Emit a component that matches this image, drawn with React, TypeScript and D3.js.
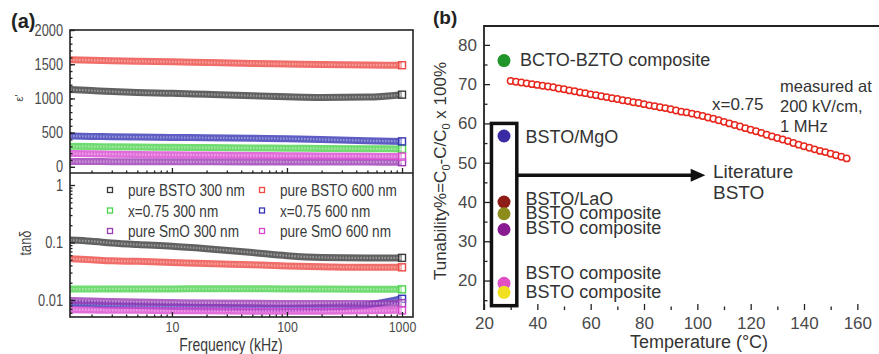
import { useEffect, useRef } from "react";
import * as d3 from "d3";

// panel (a): frequency sweep, read at these frequencies (kHz)
const freqs = [1.3, 2, 3, 5, 10, 20, 50, 100, 200, 500, 1000];
const seriesNames = [
  "pure BSTO 300 nm",
  "pure BSTO 600 nm",
  "x=0.75 300 nm",
  "x=0.75 600 nm",
  "pure SmO 300 nm",
  "pure SmO 600 nm",
];
const seriesColors = ["#3a3a3a", "#ec4a44", "#4cd24c", "#3434b4", "#9a3ab4", "#d848d0"];

const epsBSTO300 = [1130, 1115, 1100, 1085, 1075, 1060, 1040, 1025, 1015, 1020, 1055];
const epsBSTO600 = [1565, 1558, 1550, 1542, 1535, 1525, 1512, 1503, 1495, 1488, 1485];
const epsX300 = [300, 297, 293, 289, 285, 281, 276, 272, 268, 264, 262];
const epsX600 = [450, 445, 440, 435, 430, 425, 418, 412, 400, 382, 372];
const epsSmO300 = [78, 77, 76, 75, 74, 73, 72, 71, 70, 69, 68];
const epsSmO600 = [195, 190, 185, 180, 176, 172, 167, 163, 159, 154, 150];

const tanBSTO300 = [0.11, 0.105, 0.098, 0.092, 0.086, 0.078, 0.067, 0.059, 0.055, 0.054, 0.054];
const tanBSTO600 = [0.052, 0.05, 0.048, 0.047, 0.045, 0.043, 0.041, 0.039, 0.038, 0.037, 0.037];
const tanX300 = [0.0155, 0.0155, 0.0156, 0.0156, 0.0156, 0.0157, 0.0157, 0.0156, 0.0155, 0.0154, 0.0153];
const tanX600 = [0.0088, 0.0085, 0.0082, 0.008, 0.0077, 0.0075, 0.0073, 0.0072, 0.0074, 0.0082, 0.0105];
const tanSmO300 = [0.0098, 0.0096, 0.0094, 0.0092, 0.009, 0.0089, 0.0088, 0.0087, 0.0087, 0.0087, 0.0088];
const tanSmO600 = [0.0068, 0.0067, 0.0066, 0.0066, 0.0065, 0.0065, 0.0064, 0.0064, 0.0064, 0.0065, 0.0066];

const epsTicks = [0, 500, 1000, 1500, 2000];
const tanTicks = [0.01, 0.1, 1];
const freqTicks = [10, 100, 1000];

// panel (b): tunability vs temperature, x = 0.75
const temps = [
  30, 32, 34, 36, 38, 40, 42, 44, 46, 48, 50, 52, 54, 56, 58, 60, 62, 64, 66, 68, 70, 72,
  74, 76, 78, 80, 82, 84, 86, 88, 90, 92, 94, 96, 98, 100, 102, 104, 106, 108, 110, 112,
  114, 116, 118, 120, 122, 124, 126, 128, 130, 132, 134, 136, 138, 140, 142, 144, 146,
  148, 150, 152, 154, 156,
];
const tunability = [
  70.8, 70.6, 70.4, 70.2, 70.0, 69.8, 69.6, 69.4, 69.2, 68.9, 68.7, 68.4, 68.2, 67.9,
  67.7, 67.4, 67.2, 66.9, 66.7, 66.4, 66.2, 65.9, 65.7, 65.4, 65.2, 64.9, 64.6, 64.4,
  64.1, 63.9, 63.6, 63.3, 63.0, 62.8, 62.5, 62.2, 61.9, 61.5, 61.2, 60.8, 60.4, 60.0,
  59.6, 59.2, 58.8, 58.4, 58.0, 57.6, 57.1, 56.7, 56.3, 55.9, 55.5, 55.0, 54.6, 54.2,
  53.8, 53.4, 53.0, 52.7, 52.3, 51.9, 51.5, 51.1,
];

const litTemp = 27.5;
const litNames = [
  "BCTO-BZTO composite",
  "BSTO/MgO",
  "BSTO/LaO",
  "BSTO composite",
  "BSTO composite",
  "BSTO composite",
  "BSTO composite",
];
const litValues = [76, 56.8, 40, 37, 33, 19.3, 17];
const litLabelY = [76.2, 56.5, 40.8, 37.1, 33.3, 21.8, 17.0];
const litColors = ["#20962a", "#3a2aa4", "#8e1c18", "#8c8c1c", "#8a1a92", "#e050c4", "#f0e020"];

const tempTicks = [20, 40, 60, 80, 100, 120, 140, 160];
const tunTicks = [20, 30, 40, 50, 60, 70, 80];

const sans = "'Liberation Sans', Arial, sans-serif";
const SQ = 0.8; // horizontal squeeze for the condensed lettering of panel (a)

export default function App() {
  const ref = useRef<SVGSVGElement>(null);

  useEffect(() => {
    const svg = d3.select(ref.current);
    svg.selectAll("*").remove();

    // ---------- panel (a) ----------
    const aL = 70, aR = 413, aTop = 30, aSep = 173, aBot = 317;
    const x = d3.scaleLog().domain([1.3, 1246]).range([aL, aR]);
    const yEps = d3.scaleLinear().domain([-90, 2000]).range([aSep, aTop]);
    const yTan = d3.scaleLog().domain([0.00506, 1.617]).range([aBot, aSep]);

    const epsData = [epsBSTO300, epsBSTO600, epsX300, epsX600, epsSmO300, epsSmO600];
    const tanData = [tanBSTO300, tanBSTO600, tanX300, tanX600, tanSmO300, tanSmO600];

    const drawBands = (g: any, data: number[][], y: any) => {
      const line = d3
        .line<number>()
        .x((_, i) => x(freqs[i]))
        .y((d) => y(d))
        .curve(d3.curveMonotoneX);
      data.forEach((vals, k) => {
        g.append("path")
          .attr("d", line(vals))
          .attr("fill", "none")
          .attr("stroke", seriesColors[k])
          .attr("stroke-opacity", 0.8)
          .attr("stroke-width", 7);
        g.append("path")
          .attr("d", line(vals))
          .attr("fill", "none")
          .attr("stroke", "#fff")
          .attr("stroke-opacity", 0.35)
          .attr("stroke-width", 2.2)
          .attr("stroke-dasharray", "1.6 1.4");
        const last = vals[vals.length - 1];
        g.append("rect")
          .attr("x", x(freqs[freqs.length - 1]) - 3.5)
          .attr("y", y(last) - 3.5)
          .attr("width", 7)
          .attr("height", 7)
          .attr("fill", "#fff")
          .attr("fill-opacity", 0.4)
          .attr("stroke", seriesColors[k])
          .attr("stroke-width", 1.4);
      });
    };

    const a = svg.append("g");
    drawBands(a.append("g"), epsData, yEps);
    drawBands(a.append("g"), tanData, yTan);

    const styleAxis = (g: any, size = 16, squeeze = SQ) => {
      g.select(".domain").remove();
      g.selectAll("line").attr("stroke", "#222").attr("stroke-width", 1.3);
      g.selectAll("text")
        .attr("fill", "#4a4a4a")
        .style("font-family", sans)
        .style("font-size", `${size}px`)
        .attr("x", function (this: any) {
          return +d3.select(this).attr("x") / squeeze;
        })
        .attr("transform", `scale(${squeeze},1)`);
    };

    const narrowText = (g: any, t: string, xx: number, yy: number, size: number, anchor = "start") =>
      g.append("text")
        .attr("transform", `translate(${xx},${yy}) scale(${SQ},1)`)
        .attr("text-anchor", anchor)
        .attr("fill", "#3a3a3a")
        .style("font-family", sans)
        .style("font-size", `${size}px`)
        .text(t);

    // eps' axis
    a.append("g")
      .attr("transform", `translate(${aL},0)`)
      .call(d3.axisLeft(yEps).tickValues(d3.range(0, 2001, 100)).tickSize(-2.5).tickFormat(() => ""))
      .call(styleAxis);
    a.append("g")
      .attr("transform", `translate(${aL},0)`)
      .call(d3.axisLeft(yEps).tickValues(epsTicks).tickSize(-5).tickPadding(7).tickFormat(d3.format("d")))
      .call(styleAxis);

    // tan axis
    const tanMinor: number[] = [];
    [0.001, 0.01, 0.1, 1].forEach((dec) => d3.range(2, 10).forEach((m) => tanMinor.push(dec * m)));
    a.append("g")
      .attr("transform", `translate(${aL},0)`)
      .call(
        d3.axisLeft(yTan).tickValues(tanMinor.filter((v) => v > 0.0051 && v < 1.6)).tickSize(-2.5).tickFormat(() => "")
      )
      .call(styleAxis);
    a.append("g")
      .attr("transform", `translate(${aL},0)`)
      .call(d3.axisLeft(yTan).tickValues(tanTicks).tickSize(-5).tickPadding(7).tickFormat((d: any) => `${d}`))
      .call(styleAxis);

    // frequency ticks, inward on separator and bottom
    const fMinor: number[] = [];
    [1, 10, 100].forEach((dec) => d3.range(2, 10).forEach((m) => fMinor.push(dec * m)));
    [aSep, aBot].forEach((yy) => {
      a.append("g")
        .attr("transform", `translate(0,${yy})`)
        .call(d3.axisBottom(x).tickValues(fMinor).tickSize(-2.5).tickFormat(() => ""))
        .call(styleAxis);
      a.append("g")
        .attr("transform", `translate(0,${yy})`)
        .call(
          d3
            .axisBottom(x)
            .tickValues(freqTicks)
            .tickSize(-5)
            .tickPadding(4)
            .tickFormat((d: any) => (yy === aBot ? `${d}` : ""))
        )
        .call((g: any) => styleAxis(g, 15.5));
    });

    a.append("rect")
      .attr("x", aL)
      .attr("y", aTop)
      .attr("width", aR - aL)
      .attr("height", aBot - aTop)
      .attr("fill", "none")
      .attr("stroke", "#222")
      .attr("stroke-width", 1.6);
    a.append("line")
      .attr("x1", aL)
      .attr("x2", aR)
      .attr("y1", aSep)
      .attr("y2", aSep)
      .attr("stroke", "#222")
      .attr("stroke-width", 1.6);

    // legend
    const legX = [110, 262];
    const legY = [190, 210.5, 231];
    seriesNames.forEach((name, i) => {
      const cx = legX[i % 2];
      const cy = legY[Math.floor(i / 2)];
      a.append("rect")
        .attr("x", cx - 2.5)
        .attr("y", cy - 2.5)
        .attr("width", 5)
        .attr("height", 5)
        .attr("fill", "#fff")
        .attr("stroke", seriesColors[i])
        .attr("stroke-width", 1.3);
      narrowText(a, name, cx + 18, cy + 6, 17);
    });

    a.append("text")
      .attr("transform", "translate(23,98) rotate(-90)")
      .attr("text-anchor", "middle")
      .attr("fill", "#444")
      .style("font-family", sans)
      .style("font-size", "11px")
      .text("ε'");
    a.append("text")
      .attr("transform", `translate(31,243) rotate(-90) scale(${SQ},1)`)
      .attr("text-anchor", "middle")
      .attr("fill", "#444")
      .style("font-family", sans)
      .style("font-size", "16px")
      .text("tanδ");
    narrowText(a, "Frequency (kHz)", 231, 350.5, 17.5, "middle");
    a.append("text")
      .attr("x", 11)
      .attr("y", 28)
      .attr("fill", "#222")
      .style("font-family", sans)
      .style("font-weight", "bold")
      .style("font-size", "20px")
      .text("(a)");

    // ---------- panel (b) ----------
    const bL = 484, bR = 884, bTop = 26, bBot = 310;
    const xT = d3.scaleLinear().domain([20, 170]).range([bL, bR]);
    const yT = d3.scaleLinear().domain([12.5, 84.8]).range([bBot, bTop]);
    const b = svg.append("g");

    b.append("g")
      .attr("transform", `translate(0,${bBot})`)
      .call(d3.axisBottom(xT).tickValues(d3.range(30, 170, 20)).tickSize(-3.5).tickFormat(() => ""))
      .call((g: any) => styleAxis(g, 17, 1));
    b.append("g")
      .attr("transform", `translate(0,${bBot})`)
      .call(d3.axisBottom(xT).tickValues(tempTicks).tickSize(-6).tickPadding(7).tickFormat(d3.format("d")))
      .call((g: any) => styleAxis(g, 17, 1));
    b.append("g")
      .attr("transform", `translate(${bL},0)`)
      .call(d3.axisLeft(yT).tickValues(d3.range(15, 85, 10)).tickSize(-3.5).tickFormat(() => ""))
      .call((g: any) => styleAxis(g, 17, 1));
    b.append("g")
      .attr("transform", `translate(${bL},0)`)
      .call(d3.axisLeft(yT).tickValues(tunTicks).tickSize(-6).tickPadding(7).tickFormat(d3.format("d")))
      .call((g: any) => styleAxis(g, 17, 1));

    b.append("path")
      .attr("d", `M${bL},${bBot}V${bTop}H${879}`)
      .attr("fill", "none")
      .attr("stroke", "#222")
      .attr("stroke-width", 1.8);

    // literature box + arrow
    b.append("rect")
      .attr("x", xT(22.8))
      .attr("y", yT(60))
      .attr("width", xT(32.3) - xT(22.8))
      .attr("height", yT(13.6) - yT(60))
      .attr("fill", "none")
      .attr("stroke", "#111")
      .attr("stroke-width", 3.5);
    const arrowY = yT(46.8);
    b.append("line")
      .attr("x1", xT(32.3))
      .attr("x2", xT(98.5))
      .attr("y1", arrowY)
      .attr("y2", arrowY)
      .attr("stroke", "#111")
      .attr("stroke-width", 3.5);
    b.append("path")
      .attr("d", `M${xT(103)},${arrowY}L${xT(97.5)},${arrowY - 6.5}L${xT(97.5)},${arrowY + 6.5}Z`)
      .attr("fill", "#111");

    // literature points
    litValues.forEach((v, i) => {
      b.append("circle")
        .attr("cx", xT(litTemp))
        .attr("cy", yT(v))
        .attr("r", 6.5)
        .attr("fill", litColors[i]);
    });
    litNames.forEach((name, i) => {
      b.append("text")
        .attr("x", i === 0 ? xT(33.5) : xT(35.6))
        .attr("y", yT(litLabelY[i]) + 6)
        .attr("fill", "#333")
        .style("font-family", sans)
        .style("font-size", "18px")
        .text(name);
    });

    // measured curve
    b.append("g")
      .selectAll("circle")
      .data(temps)
      .join("circle")
      .attr("cx", (d) => xT(d))
      .attr("cy", (_, i) => yT(tunability[i]))
      .attr("r", 3.2)
      .attr("fill", "#fff")
      .attr("stroke", "#e8261c")
      .attr("stroke-width", 1.5);

    const note = (t: string, xx: number, yy: number, size: number) =>
      b.append("text")
        .attr("x", xx)
        .attr("y", yy)
        .attr("fill", "#333")
        .style("font-family", sans)
        .style("font-size", `${size}px`)
        .text(t);
    note("x=0.75", 712, 110, 17);
    note("measured at", 780, 92, 16.5);
    note("200 kV/cm,", 780, 112, 16.5);
    note("1 MHz", 780, 132, 16.5);
    note("Literature", 713, 178, 19);
    note("BSTO", 713, 199, 19);

    const yl = b
      .append("text")
      .attr("transform", "translate(446,171) rotate(-90)")
      .attr("text-anchor", "middle")
      .attr("fill", "#333")
      .style("font-family", sans)
      .style("font-size", "17px");
    yl.append("tspan").text("Tunability%=C");
    yl.append("tspan").attr("dy", 4).style("font-size", "11px").text("0");
    yl.append("tspan").attr("dy", -4).text("-C/C");
    yl.append("tspan").attr("dy", 4).style("font-size", "11px").text("0");
    yl.append("tspan").attr("dy", -4).text(" x 100%");

    b.append("text")
      .attr("x", 699)
      .attr("y", 348)
      .attr("text-anchor", "middle")
      .attr("fill", "#333")
      .style("font-family", sans)
      .style("font-size", "18px")
      .text("Temperature (°C)");
    b.append("text")
      .attr("x", 433)
      .attr("y", 24)
      .attr("fill", "#222")
      .style("font-family", sans)
      .style("font-weight", "bold")
      .style("font-size", "19px")
      .text("(b)");
  }, []);

  return (
    <svg
      ref={ref}
      width={879}
      height={354}
      style={{ position: "absolute", left: 0, top: 0, background: "#fff" }}
    />
  );
}
